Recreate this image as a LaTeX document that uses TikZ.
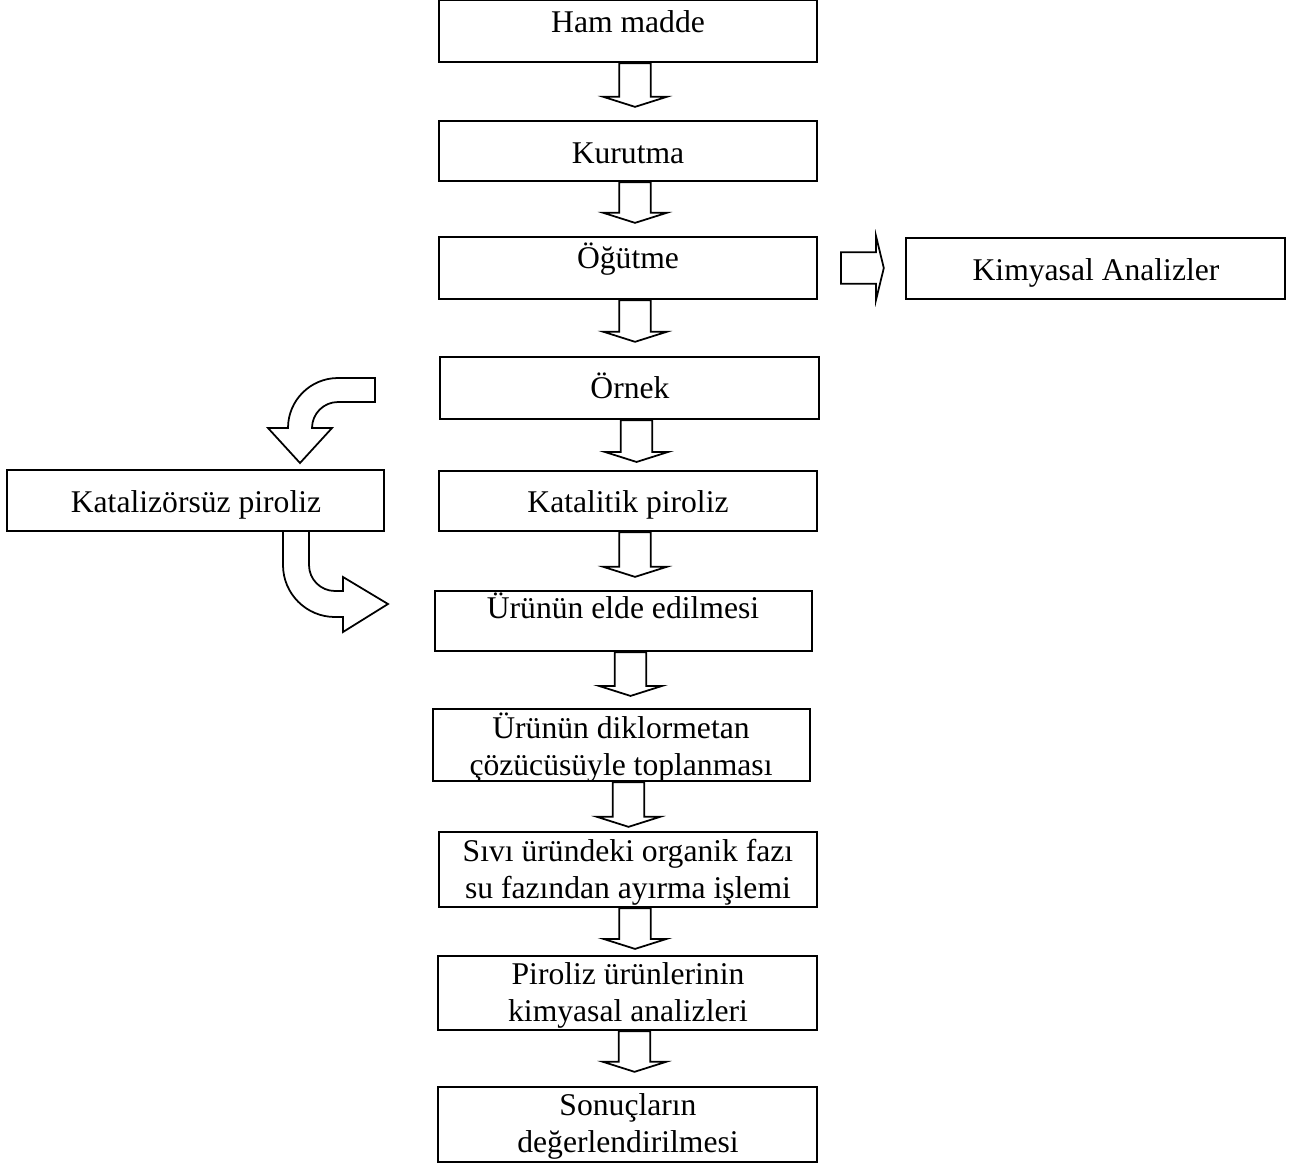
\documentclass[tikz,border=0pt]{standalone}
\usepackage{fontspec}
\setmainfont{Liberation Serif}
\usetikzlibrary{calc}

\newcommand{\blkdown}[3]{%
  \draw[blk] let \p1=(#1.south), \p2=(#2.north) in
    (\x1-5pt,\y1) -- (\x1-5pt,\y2+#3+5.7pt) -- (\x1-14pt,\y2+#3+5.7pt)
    -- (\x1+4pt,\y2+#3) -- (\x1+22pt,\y2+#3+5.7pt) -- (\x1+13pt,\y2+#3+5.7pt)
    -- (\x1+13pt,\y1) -- cycle;}

\begin{document}
\begin{tikzpicture}[x=0.02cm, y=-0.02cm,
		box/.style={draw, line width=1.3pt, rectangle, inner sep=0pt, minimum width=7.56cm},
		txt/.style={anchor=base, align=center, inner sep=0pt, font=\fontsize{18}{20.8}\selectfont},
		blk/.style={draw, fill=white, line width=1pt, line join=miter}]
		
		\useasboundingbox (0,0) rectangle (1291,1164);
		
		\node[box, minimum height=1.24cm] (ham) at (628,31) {};
		\node[box, minimum height=1.2cm] (kur) at (628,151) {};
		\node[box, minimum height=1.24cm] (ogut) at (628,268) {};
		\node[box, minimum height=1.22cm, minimum width=7.58cm] (kimya) at (1095.5,268.5) {};
		\node[box, minimum height=1.24cm, minimum width=7.58cm] (ornek) at (629.5,388) {};
		\node[box, minimum height=1.22cm, minimum width=7.54cm] (katsuz) at (195.5,500.5) {};
		\node[box, minimum height=1.2cm] (katli) at (628,501) {};
		\node[box, minimum height=1.2cm, minimum width=7.54cm] (elde) at (623.5,621) {};
		\node[box, minimum height=1.44cm, minimum width=7.54cm] (dikl) at (621.5,745) {};
		\node[box, minimum height=1.5cm] (sivi) at (628,869.5) {};
		\node[box, minimum height=1.48cm, minimum width=7.58cm] (pirol) at (627.5,993) {};
		\node[box, minimum height=1.5cm, minimum width=7.58cm] (sonuc) at (627.5,1124.5) {};
		
		\node[txt] (hamT) at (628,32) {Ham madde};
		\node[txt] (kurT) at (628,163) {Kurutma};
		\node[txt] (ogutT) at (628,268) {Öğütme};
		\node[txt] (kimyaT) at (1096,280) {Kimyasal Analizler};
		\node[txt] (ornekT) at (630,398) {Örnek};
		\node[txt] (katsuzT) at (196,512) {Katalizörsüz piroliz};
		\node[txt] (katliT) at (628,512) {Katalitik piroliz};
		\node[txt] (eldeT) at (623,618) {Ürünün elde edilmesi};
		\node[txt] (diklT) at (621,775) {Ürünün diklormetan\\çözücüsüyle toplanması};
		\node[txt] (siviT) at (628,898) {Sıvı üründeki organik fazı\\su fazından ayırma işlemi};
		\node[txt] (pirolT) at (628,1021) {Piroliz ürünlerinin\\kimyasal analizleri};
		\node[txt] (sonucT) at (628,1152) {Sonuçların\\değerlendirilmesi};
		
		\blkdown{ham}{kur}{7.4pt}
		\blkdown{kur}{ogut}{7.4pt}
		\blkdown{ogut}{ornek}{8pt}
		\blkdown{ornek}{katli}{4.5pt}
		\blkdown{katli}{elde}{7.4pt}
		\blkdown{elde}{dikl}{6.8pt}
		\blkdown{dikl}{sivi}{2.3pt}
		\blkdown{sivi}{pirol}{3.4pt}
		\blkdown{pirol}{sonuc}{8pt}
		
		\draw[blk] let \p1=(ogut.east), \p2=(kimya.west) in
		(\x1+13pt,\y1+9pt) -- (\x1+33pt,\y1+9pt) -- (\x1+33pt,\y1+18pt) -- (\x2-12pt,\y1)
		-- (\x1+33pt,\y1-18pt) -- (\x1+33pt,\y1-9pt) -- (\x1+13pt,\y1-9pt) -- cycle;
		
		\draw[blk] (375,378) -- (338,378) arc[start angle=270, end angle=180, radius=50]
		-- (268,428) -- (300,463) -- (332,428) -- (312,428)
		arc[start angle=180, end angle=270, radius=26] -- (375,402) -- cycle;
		
		\draw[blk] (283,531) -- (283,565) arc[start angle=180, end angle=90, radius=52]
		-- (343,617) -- (343,632) -- (388,604) -- (343,577) -- (343,591) -- (335,591)
		arc[start angle=90, end angle=180, radius=26] -- (309,531) -- cycle;
	\end{tikzpicture}
\end{document}
